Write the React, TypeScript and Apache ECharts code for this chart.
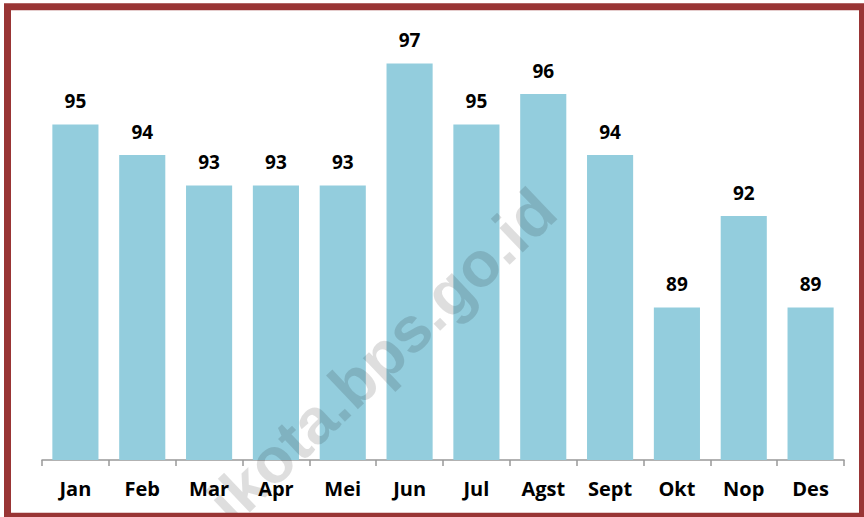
import React, { useEffect, useRef } from "react";
import * as echarts from "echarts";

const categories = ["Jan", "Feb", "Mar", "Apr", "Mei", "Jun", "Jul", "Agst", "Sept", "Okt", "Nop", "Des"];
const values = [95, 94, 93, 93, 93, 97, 95, 96, 94, 89, 92, 89];
const watermark = "ikota.bps.go.id";

export default function App() {
  const ref = useRef<HTMLDivElement>(null);
  useEffect(() => {
    document.body.style.margin = "0";
    const chart = echarts.init(ref.current!, null, { renderer: "svg" });
    const font = "'Open Sans', Lato, sans-serif";
    chart.setOption({
      animation: false,
      backgroundColor: "#ffffff",
      grid: { left: 42, right: 20, top: 33, bottom: 57, containLabel: false },
      xAxis: {
        type: "category",
        data: categories,
        axisLine: { show: true, lineStyle: { color: "#999999", width: 1.5 } },
        axisTick: { show: true, length: 6, lineStyle: { color: "#999999", width: 1.5 } },
        axisLabel: { color: "#000000", fontFamily: font, fontWeight: "bold", fontSize: 20, margin: 18 },
      },
      yAxis: {
        type: "value",
        min: 84,
        max: 98,
        show: false,
        splitLine: { show: false },
      },
      series: [
        {
          type: "bar",
          data: values,
          barWidth: "69%",
          itemStyle: { color: "#93CDDD" },
          label: {
            show: true,
            position: "top",
            distance: 14,
            color: "#000000",
            fontFamily: font,
            fontWeight: "bold",
            fontSize: 19,
          },
        },
      ],
      graphic: [
        {
          type: "text",
          x: 382,
          y: 356,
          rotation: (43.6 * Math.PI) / 180,
          z: 100,
          silent: true,
          style: {
            text: watermark,
            fill: "rgba(0,0,0,0.13)",
            font: "bold 64px 'Liberation Sans', Arial, sans-serif",
            textAlign: "center",
            textVerticalAlign: "middle",
          },
        },
        {
          type: "rect",
          z: 101,
          silent: true,
          shape: { x: 7.5, y: 6.75, width: 855, height: 509.5 },
          style: { fill: "none", stroke: "#993535", lineWidth: 7 },
        },
      ],
    });
    return () => chart.dispose();
  }, []);
  return <div ref={ref} style={{ width: 864, height: 517 }} />;
}
